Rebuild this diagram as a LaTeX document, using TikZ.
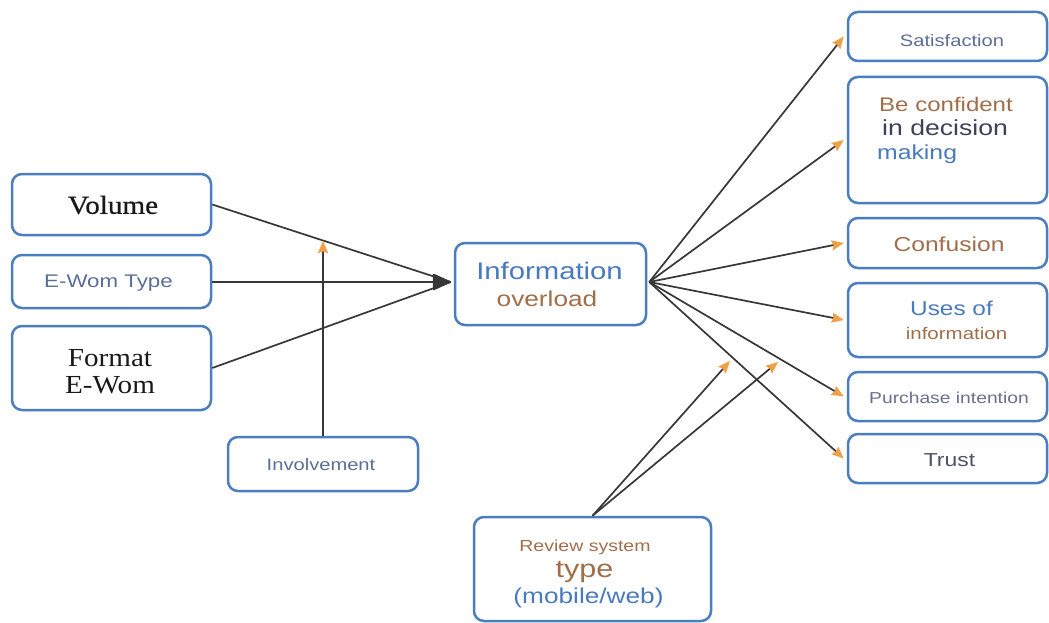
\documentclass[tikz,border=0pt]{standalone}
\usepackage{fontspec}
\usetikzlibrary{arrows.meta}
\newfontfamily\sansf[FakeStretch=1.22]{Liberation Sans}
\newfontfamily\seriff[FakeStretch=1.12]{Liberation Serif}
\newfontfamily\seriffb[FakeStretch=1.12,FakeBold=0.6]{Liberation Serif}
\newcommand{\fsz}[1]{\fontsize{#1}{#1}\selectfont}
\definecolor{boxblue}{RGB}{74,126,193}
\definecolor{linegray}{RGB}{55,55,55}
\definecolor{tiporange}{RGB}{240,160,70}
\definecolor{tblue}{RGB}{74,122,190}
\definecolor{tbrown}{RGB}{160,110,75}
\definecolor{tslate}{RGB}{58,66,86}
\definecolor{tgblue}{RGB}{92,110,150}
\definecolor{tgray}{RGB}{105,110,140}
\definecolor{tdark}{RGB}{78,82,100}
\definecolor{tblack}{RGB}{25,25,25}
\begin{document}
\begin{tikzpicture}[x=1pt,y=-1pt,
  box/.style={draw=boxblue, line width=2.5pt, rounded corners=10pt, inner sep=0pt},
  conn/.style={draw=linegray, line width=1.7pt},
  otip/.style={-{Stealth[length=12pt,width=10pt,inset=1.5pt,color=tiporange]}},
  btip/.style={-{Triangle[length=19pt,width=17pt,round,color=linegray]}},
  txt/.style={inner sep=0pt, font=\sansf}]
\useasboundingbox (0,0) rectangle (1049,623);
% boxes
\node[box, minimum width=199pt, minimum height=61pt] (vol) at (111.5,204.5) {};
\node[box, minimum width=199pt, minimum height=53pt] (ewom) at (111.5,281.5) {};
\node[box, minimum width=199pt, minimum height=84pt] (fmt) at (111.5,368) {};
\node[box, minimum width=190pt, minimum height=54pt] (inv) at (323,464) {};
\node[box, minimum width=191pt, minimum height=82pt] (info) at (550.5,284) {};
\node[box, minimum width=237pt, minimum height=104pt] (rev) at (592.5,569) {};
\node[box, minimum width=199pt, minimum height=49pt] (sat) at (947.5,36.5) {};
\node[box, minimum width=199pt, minimum height=126pt] (conf) at (947.5,140) {};
\node[box, minimum width=199pt, minimum height=50pt] (cnf) at (947.5,243) {};
\node[box, minimum width=199pt, minimum height=74pt] (uses) at (947.5,320) {};
\node[box, minimum width=199pt, minimum height=49pt] (pur) at (947.5,396.5) {};
\node[box, minimum width=199pt, minimum height=49pt] (trust) at (947.5,458.5) {};
% texts
\node[txt, font=\seriffb\fsz{26}, text=tblack] (tvol) at (113,205) {Volume};
\node[txt, font=\sansf\fsz{18.3}, text=tgblue] (tewom) at (108.5,283) {E-Wom Type};
\node[txt, font=\seriff\fsz{26}, text=tblack] (tfmt1) at (110,358) {Format};
\node[txt, font=\seriff\fsz{26}, text=tblack] (tfmt2) at (110,385) {E-Wom};
\node[txt, font=\sansf\fsz{16.5}, text=tgblue] (tinv) at (321,465) {Involvement};
\node[txt, font=\sansf\fsz{24}, text=tblue] (tinfo1) at (549.5,271) {Information};
\node[txt, font=\sansf\fsz{21.5}, text=tbrown] (tinfo2) at (547,299) {overload};
\node[txt, font=\sansf\fsz{16}, text=tbrown] (trev1) at (585,547) {Review system};
\node[txt, font=\sansf\fsz{25}, text=tbrown] (trev2) at (584.5,572) {type};
\node[txt, font=\sansf\fsz{21.5}, text=tblue] (trev3) at (588.5,598) {(mobile/web)};
\node[txt, font=\sansf\fsz{16.5}, text=tgblue] (tsat) at (952,41) {Satisfaction};
\node[txt, font=\sansf\fsz{19.7}, text=tbrown, anchor=west] (tc1) at (879,104) {Be confident};
\node[txt, font=\sansf\fsz{21.8}, text=tslate, anchor=west] (tc2) at (882,128) {in decision};
\node[txt, font=\sansf\fsz{20.3}, text=tblue, anchor=west] (tc3) at (877,154) {making};
\node[txt, font=\sansf\fsz{20.2}, text=tbrown] (tcnf) at (949,244) {Confusion};
\node[txt, font=\sansf\fsz{20}, text=tblue] (tuses1) at (951.5,308) {Uses of};
\node[txt, font=\sansf\fsz{16.8}, text=tbrown] (tuses2) at (956.5,333) {information};
\node[txt, font=\sansf\fsz{15.8}, text=tgray] (tpur) at (949,398) {Purchase intention};
\node[txt, font=\sansf\fsz{18.8}, text=tdark] (ttrust) at (949.5,460) {Trust};
% coordinates
\coordinate (tip) at ([xshift=-3pt,yshift=2pt]info.west);
\coordinate (src) at ([xshift=2pt,yshift=2pt]info.east);
\coordinate (invtip) at (323,241);
\coordinate (r1) at (730,361);
\coordinate (r2) at (778,362);
% connectors
\draw[conn] (vol.east) -- (tip);
\draw[conn] (fmt.east) -- (tip);
\draw[conn, btip] (ewom.east |- tip) -- (tip);
\draw[conn, otip] (inv.north) -- (invtip);
\draw[conn, otip] (src) -- ([xshift=-3pt]sat.west);
\draw[conn, otip] (src) -- ([xshift=-3pt]conf.west);
\draw[conn, otip] (src) -- ([xshift=-3pt]cnf.west);
\draw[conn, otip] (src) -- ([xshift=-3pt]uses.west);
\draw[conn, otip] (src) -- ([xshift=-3pt]pur.west);
\draw[conn, otip] (src) -- ([xshift=-3pt]trust.west);
\draw[conn, otip] (rev.north) -- (r1);
\draw[conn, otip] (rev.north) -- (r2);
\end{tikzpicture}
\end{document}
